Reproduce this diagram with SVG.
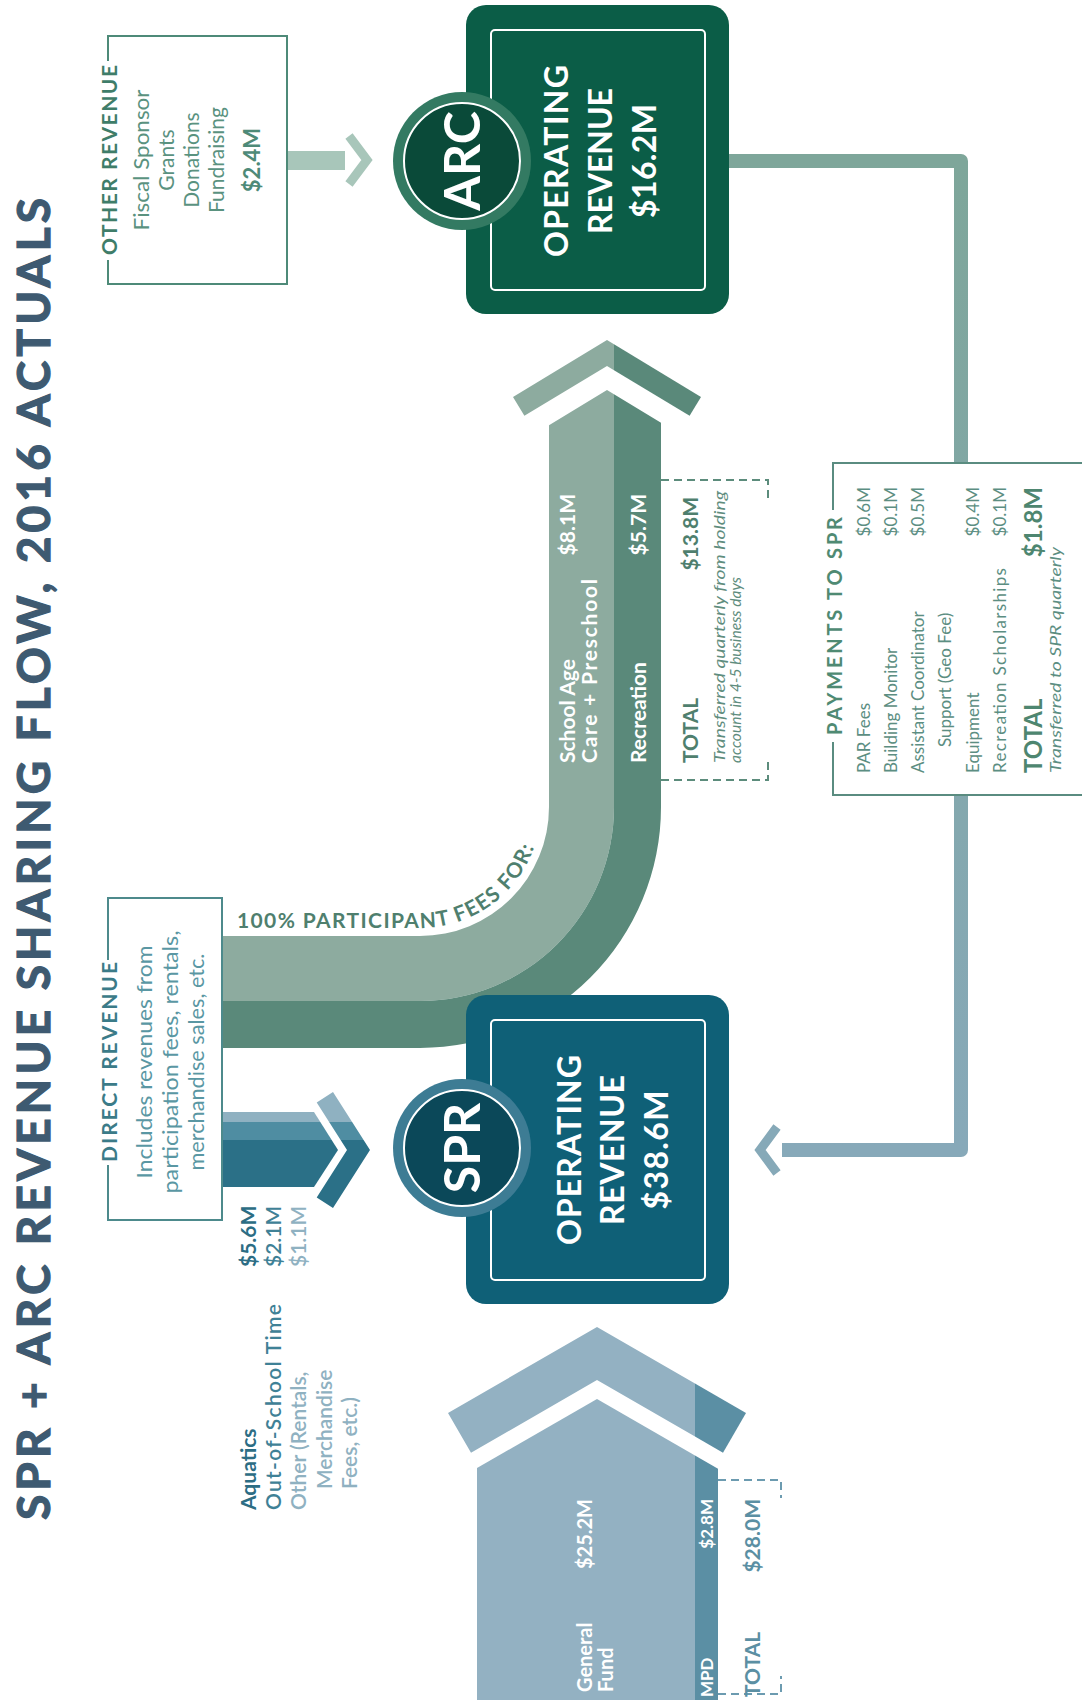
<svg xmlns="http://www.w3.org/2000/svg" width="1082" height="1700" viewBox="0 0 1082 1700">
<defs>
<style>
text{font-family:Lato,"Noto Sans","Liberation Sans",sans-serif;}
.b{font-weight:700;}
.w{fill:#ffffff;}
.m{text-anchor:middle;}
.e{text-anchor:end;}
.lbox{fill:none;stroke-width:2;}
.dash{fill:none;stroke-width:2;stroke-dasharray:8 5;}
</style>
<linearGradient id="conn" gradientUnits="userSpaceOnUse" x1="0" y1="161" x2="0" y2="1150">
<stop offset="0" stop-color="#7ea69a"/><stop offset="1" stop-color="#87a9b9"/>
</linearGradient>
<linearGradient id="direct" gradientUnits="userSpaceOnUse" x1="0" y1="1092" x2="0" y2="1208">
<stop offset="0" stop-color="#8fb1c1"/><stop offset="0.2586" stop-color="#8fb1c1"/>
<stop offset="0.2586" stop-color="#4f8da2"/><stop offset="0.4138" stop-color="#4f8da2"/>
<stop offset="0.4138" stop-color="#2b7087"/><stop offset="1" stop-color="#2b7087"/>
</linearGradient>
</defs>
<rect width="1082" height="1700" fill="#ffffff"/>

<text id="title" class="b" transform="translate(50,1520) rotate(-90)" font-size="46" fill="#3e5a71" stroke="#3e5a71" stroke-width="1.2" textLength="1322" lengthAdjust="spacing">SPR + ARC REVENUE SHARING FLOW, 2016 ACTUALS</text>

<g id="connectors">
<path d="M729,161 H961 V1150 H782" fill="none" stroke="url(#conn)" stroke-width="14" stroke-linejoin="round"/>
<polyline points="777,1127 760,1150 777,1173" fill="none" stroke="#86a9b8" stroke-width="9"/>
<rect x="287" y="151" width="58" height="19" fill="#a8c6ba"/>
<polyline points="349,136 367,160 349,184" fill="none" stroke="#a8c6ba" stroke-width="9"/>
<path d="M222,1112 H314 L338,1150 L314,1187 H222 Z" fill="url(#direct)"/>
<polygon points="333,1092 370,1150 333,1208 316.7,1197.6 347,1150 316.7,1102.4" fill="url(#direct)"/>
</g>

<g id="participant-fees">
<path d="M549,425.2 L607,390 L614,394.2 L614,807 A194 194 0 0 1 420,1001 L222,1001 L222,936 L420,936 A129 129 0 0 0 549,807 Z" fill="#8dab9f"/>
<path d="M614,394.2 L661,422.8 L661,807 A241 241 0 0 1 420,1048 L222,1048 L222,1001 L420,1001 A194 194 0 0 0 614,807 Z" fill="#5a897a"/>
<polygon points="513,397 607,340 614,344.2 614,370.2 607,366 524.4,415.8" fill="#8dab9f"/>
<polygon points="614,344.2 701,397 689.6,415.8 614,370.2" fill="#5a897a"/>
<path id="feesPath" d="M237,928 H420 A121 121 0 0 0 541,807" fill="none"/>
<text class="b" font-size="21" fill="#4f7f6e"><textPath href="#feesPath" textLength="332" lengthAdjust="spacing">100% PARTICIPANT FEES FOR:</textPath></text>
<text class="b w" font-size="21" transform="translate(575,763) rotate(-90)">School Age</text>
<text class="b w" font-size="21" transform="translate(597,763) rotate(-90)" textLength="184" lengthAdjust="spacing">Care + Preschool</text>
<text class="b w e" font-size="21" transform="translate(575,494) rotate(-90)">$8.1M</text>
<text class="b w" font-size="21" transform="translate(646,763) rotate(-90)">Recreation</text>
<text class="b w e" font-size="21" transform="translate(646,494) rotate(-90)">$5.7M</text>
</g>

<g id="arc-total">
<path class="dash" d="M661,480 H768 V502" stroke="#5c8c7c"/>
<path class="dash" d="M661,780 H768 V758" stroke="#5c8c7c"/>
<text class="b" font-size="21" fill="#4f7f6e" transform="translate(698,763) rotate(-90)">TOTAL</text>
<text class="b e" font-size="21" fill="#4f7f6e" transform="translate(698,497) rotate(-90)">$13.8M</text>
<text font-size="16" font-style="italic" fill="#5f8d7e" transform="translate(725,763) rotate(-90)" textLength="272" lengthAdjust="spacingAndGlyphs">Transferred quarterly from holding</text>
<text font-size="16" font-style="italic" fill="#5f8d7e" transform="translate(741,763) rotate(-90)" textLength="186" lengthAdjust="spacingAndGlyphs">account in 4-5 business days</text>
</g>

<g id="other-revenue">
<path class="lbox" d="M108,61 V36 H287 V284 H108 V260" stroke="#4e8a78"/>
<text class="b m" font-size="21" fill="#3f7d69" transform="translate(117,160) rotate(-90)" textLength="190" lengthAdjust="spacing">OTHER REVENUE</text>
<text class="m" font-size="21" fill="#5a927f" transform="translate(149,160) rotate(-90)" textLength="141" lengthAdjust="spacingAndGlyphs">Fiscal Sponsor</text>
<text class="m" font-size="21" fill="#5a927f" transform="translate(174,160) rotate(-90)">Grants</text>
<text class="m" font-size="21" fill="#5a927f" transform="translate(199,160) rotate(-90)">Donations</text>
<text class="m" font-size="21" fill="#5a927f" transform="translate(224,160) rotate(-90)">Fundraising</text>
<text class="b m" font-size="22" fill="#4e8a78" transform="translate(260,160) rotate(-90)">$2.4M</text>
</g>

<g id="direct-revenue">
<path class="lbox" d="M108,960 V898 H222 V1220 H108 V1165" stroke="#4d8a8c"/>
<text class="b m" font-size="21" fill="#3b7b88" transform="translate(117,1062) rotate(-90)" textLength="200" lengthAdjust="spacing">DIRECT REVENUE</text>
<text class="m" font-size="21" fill="#5a97a3" transform="translate(152,1062) rotate(-90)" textLength="233" lengthAdjust="spacingAndGlyphs">Includes revenues from</text>
<text class="m" font-size="21" fill="#5a97a3" transform="translate(178,1062) rotate(-90)" textLength="263" lengthAdjust="spacingAndGlyphs">participation fees, rentals,</text>
<text class="m" font-size="21" fill="#5a97a3" transform="translate(204,1062) rotate(-90)" textLength="217" lengthAdjust="spacingAndGlyphs">merchandise sales, etc.</text>
</g>

<g id="direct-items">
<text class="b" font-size="21" fill="#2c6d84" transform="translate(256,1510) rotate(-90)">Aquatics</text>
<text font-size="21" font-weight="600" fill="#3f8196" transform="translate(281,1510) rotate(-90)" textLength="206" lengthAdjust="spacing">Out-of-School Time</text>
<text font-size="21" font-weight="600" fill="#8fb1c1" transform="translate(306,1510) rotate(-90)">Other (Rentals,</text>
<text font-size="21" font-weight="600" fill="#8fb1c1" transform="translate(332,1489) rotate(-90)">Merchandise</text>
<text font-size="21" font-weight="600" fill="#8fb1c1" transform="translate(357,1489) rotate(-90)">Fees, etc.)</text>
<text class="b" font-size="21" fill="#2c6d84" transform="translate(256,1267) rotate(-90)">$5.6M</text>
<text font-size="21" font-weight="600" fill="#3f8196" transform="translate(281,1267) rotate(-90)">$2.1M</text>
<text font-size="21" font-weight="600" fill="#8fb1c1" transform="translate(306,1267) rotate(-90)">$1.1M</text>
</g>

<g id="spr-funding">
<path d="M477,1700 V1468 L597,1399 L695,1455.6 V1700 Z" fill="#93b1c2"/>
<path d="M695,1455.6 L718,1468.8 V1700 H695 Z" fill="#5b8fa4"/>
<polygon points="448,1413 597,1327 695,1383.5 695,1436.6 597,1380.1 471,1452.8" fill="#93b1c2"/>
<polygon points="695,1383.5 746,1413 723,1452.8 695,1436.6" fill="#5b8fa4"/>
<text class="b w" font-size="20" transform="translate(592,1692) rotate(-90)">General</text>
<text class="b w" font-size="20" transform="translate(613,1692) rotate(-90)">Fund</text>
<text class="b w e" font-size="20" transform="translate(592,1499) rotate(-90)">$25.2M</text>
<text class="b w" font-size="17" transform="translate(713,1697) rotate(-90)">MPD</text>
<text class="b w e" font-size="17" transform="translate(713,1499) rotate(-90)">$2.8M</text>
<path class="dash" d="M718,1480 H781 V1498" stroke="#6c9bb0"/>
<path class="dash" d="M718,1694 H781 V1676" stroke="#6c9bb0"/>
<text class="b" font-size="21" fill="#5b8fa3" transform="translate(760,1697) rotate(-90)">TOTAL</text>
<text class="b e" font-size="21" fill="#5b8fa3" transform="translate(760,1499) rotate(-90)">$28.0M</text>
</g>

<g id="arc">
<rect x="466" y="5" width="263" height="309" rx="20" fill="#0b5d47"/>
<rect x="491" y="30" width="214" height="260" rx="4" fill="none" stroke="#ffffff" stroke-width="2"/>
<text class="b w m" font-size="32" transform="translate(568,161) rotate(-90)" textLength="192" lengthAdjust="spacing">OPERATING</text>
<text class="b w m" font-size="32" transform="translate(612,161) rotate(-90)" textLength="146" lengthAdjust="spacing">REVENUE</text>
<text class="b w m" font-size="32" transform="translate(656,161) rotate(-90)" textLength="114" lengthAdjust="spacing">$16.2M</text>
<circle cx="462" cy="161" r="69" fill="#337a62"/>
<circle cx="462" cy="161" r="58" fill="#0a4a39" stroke="#ffffff" stroke-width="2"/>
<text class="b w m" font-size="50" transform="translate(480,161) rotate(-90)">ARC</text>
</g>

<g id="spr">
<rect x="466" y="995" width="263" height="309" rx="20" fill="#0f6077"/>
<rect x="491" y="1020" width="214" height="260" rx="4" fill="none" stroke="#ffffff" stroke-width="2"/>
<text class="b w m" font-size="32" transform="translate(581,1150) rotate(-90)" textLength="190" lengthAdjust="spacing">OPERATING</text>
<text class="b w m" font-size="32" transform="translate(624,1150) rotate(-90)" textLength="150" lengthAdjust="spacing">REVENUE</text>
<text class="b w m" font-size="32" transform="translate(668,1150) rotate(-90)" textLength="119" lengthAdjust="spacing">$38.6M</text>
<circle cx="462" cy="1148" r="69" fill="#3d7c94"/>
<circle cx="462" cy="1148" r="58" fill="#0b4859" stroke="#ffffff" stroke-width="2"/>
<text class="b w m" font-size="50" transform="translate(480,1148) rotate(-90)">SPR</text>
</g>

<g id="payments">
<rect x="833" y="463" width="260" height="332" fill="#ffffff"/>
<path class="lbox" d="M833,510 V463 H1090 M1090,795 H833 V742" stroke="#5a8c80"/>
<text class="b m" font-size="20" fill="#4f8a73" transform="translate(842,626) rotate(-90)" textLength="218" lengthAdjust="spacing">PAYMENTS TO SPR</text>
<g font-size="17" fill="#5c8e82">
<text transform="translate(870,773) rotate(-90)">PAR Fees</text>
<text transform="translate(897,773) rotate(-90)">Building Monitor</text>
<text transform="translate(924,773) rotate(-90)">Assistant Coordinator</text>
<text transform="translate(951,747) rotate(-90)">Support (Geo Fee)</text>
<text transform="translate(979,773) rotate(-90)">Equipment</text>
<text transform="translate(1006,773) rotate(-90)" textLength="205" lengthAdjust="spacing">Recreation Scholarships</text>
<text class="e" transform="translate(870,487) rotate(-90)">$0.6M</text>
<text class="e" transform="translate(897,487) rotate(-90)">$0.1M</text>
<text class="e" transform="translate(924,487) rotate(-90)">$0.5M</text>
<text class="e" transform="translate(979,487) rotate(-90)">$0.4M</text>
<text class="e" transform="translate(1006,487) rotate(-90)">$0.1M</text>
</g>
<text class="b" font-size="24" fill="#4e8670" transform="translate(1042,773) rotate(-90)">TOTAL</text>
<text class="b e" font-size="24" fill="#4e8670" transform="translate(1042,487) rotate(-90)">$1.8M</text>
<text font-size="15" font-style="italic" fill="#5c8e82" transform="translate(1061,773) rotate(-90)" textLength="226" lengthAdjust="spacingAndGlyphs">Transferred to SPR quarterly</text>
</g>
</svg>
